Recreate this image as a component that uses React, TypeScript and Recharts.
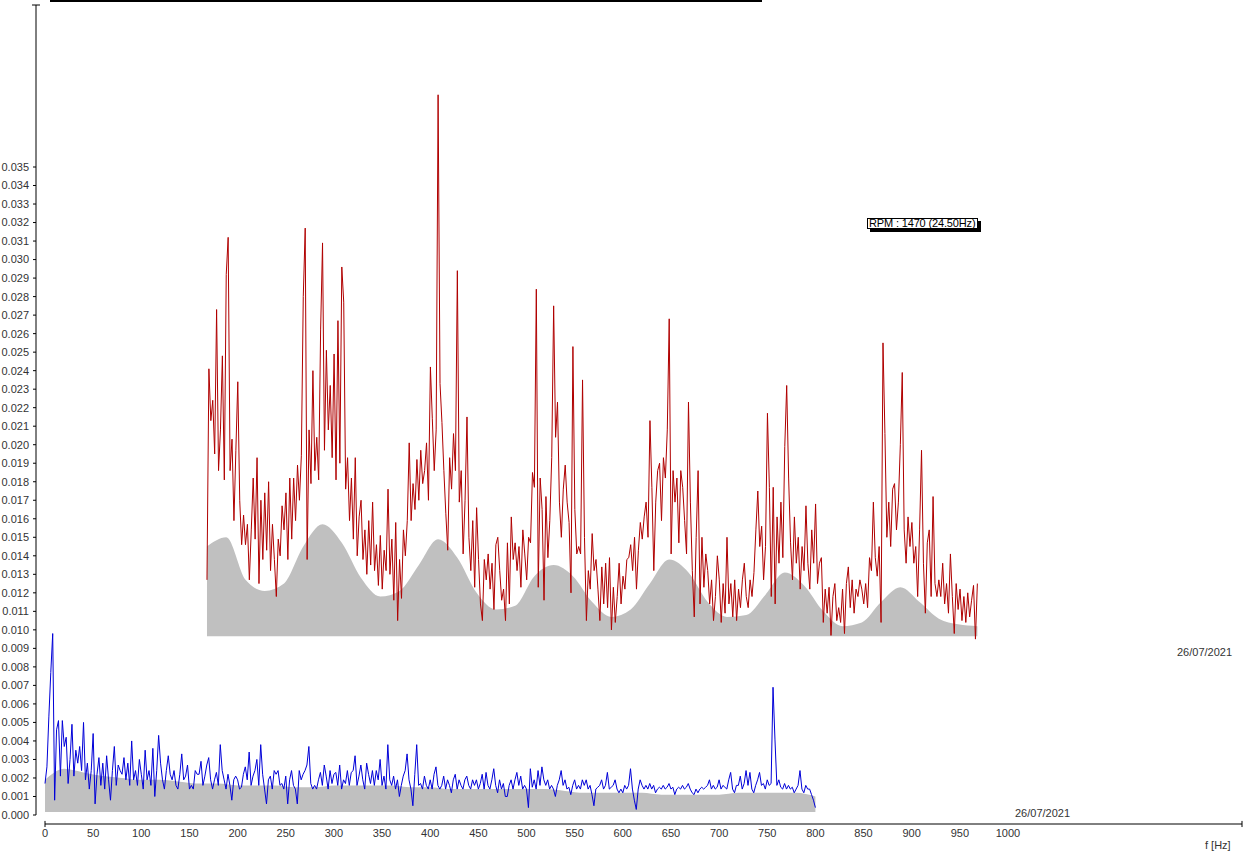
import React from 'react';
import { ComposedChart, Line, Area, XAxis, YAxis, ReferenceLine } from 'recharts';

// spectrum amplitudes in 1e-3 units, one value every 2 Hz from 0 to 800 Hz
const BIN_HZ = 2;

const BACK_SPECTRUM = [
  3.2, 14.6, 11.8, 12.9, 10.0, 17.8, 9.1, 11.3, 15.3, 8.6, 19.7, 21.7, 9.1, 10.8, 6.4, 10.2, 13.9, 7.5, 5.1, 6.7,
  5.1, 6.2, 3.2, 5.9, 8.7, 5.4, 9.8, 3.0, 7.5, 4.3, 7.9, 4.8, 8.5, 3.7, 6.2, 4.3, 2.3, 5.4, 4.5, 7.2,
  5.9, 7.9, 4.3, 8.7, 5.4, 8.7, 6.4, 9.4, 7.5, 9.9, 18.5, 22.2, 4.3, 11.3, 8.4, 14.5, 9.1, 10.9, 8.6, 16.7,
  21.4, 10.2, 15.6, 11.3, 13.7, 9.8, 15.4, 8.6, 17.2, 9.5, 20.1, 18.2, 8.1, 9.8, 6.4, 8.7, 5.4, 9.8, 4.5, 6.6,
  7.5, 4.3, 5.9, 3.5, 6.4, 4.0, 7.4, 3.7, 5.1, 2.9, 5.6, 2.7, 4.8, 3.7, 8.1, 3.5, 5.4, 2.1, 6.3, 1.0,
  4.3, 2.2, 5.9, 4.5, 6.4, 10.6, 6.4, 8.4, 7.0, 9.7, 7.5, 10.2, 8.4, 9.1, 10.6, 7.5, 14.7, 11.9, 9.1, 11.3,
  29.4, 13.8, 11.7, 9.1, 6.8, 4.8, 9.8, 8.1, 11.1, 9.1, 19.9, 7.4, 9.1, 4.6, 7.5, 12.0, 5.5, 3.7, 6.4, 2.8,
  7.1, 4.3, 1.9, 1.0, 4.3, 3.2, 4.6, 2.7, 4.1, 1.6, 5.1, 5.5, 3.7, 2.1, 2.7, 1.0, 5.2, 1.9, 6.6, 4.3,
  5.2, 3.7, 5.0, 2.8, 5.9, 4.6, 3.2, 5.5, 5.2, 9.0, 8.2, 18.9, 2.8, 8.7, 7.0, 2.1, 7.7, 4.4, 6.4, 9.8,
  18.0, 10.9, 12.8, 7.4, 5.5, 8.1, 9.4, 7.4, 6.3, 2.5, 15.8, 7.0, 4.6, 5.0, 4.6, 14.0, 5.5, 1.0, 3.7, 2.7,
  5.7, 3.7, 4.3, 2.7, 1.0, 3.9, 1.9, 4.1, 1.7, 4.4, 0.5, 2.8, 0.9, 2.3, 4.1, 1.9, 3.4, 2.7, 4.3, 4.4,
  5.1, 3.7, 5.5, 2.7, 4.8, 6.3, 5.4, 6.6, 7.4, 5.5, 11.8, 8.2, 3.7, 7.4, 9.1, 9.5, 6.4, 9.8, 8.7, 11.3,
  17.3, 4.6, 9.1, 7.4, 8.7, 5.2, 9.1, 8.2, 6.4, 4.6, 12.8, 7.4, 3.7, 1.2, 5.5, 9.1, 1.9, 5.5, 2.8, 4.6,
  3.7, 1.9, 3.2, 1.0, 2.3, 4.5, 3.2, 0.9, 3.0, 1.4, 5.5, 1.9, 3.0, 1.2, 3.2, 1.0, 2.7, 1.7, 3.2, 4.1,
  2.3, 1.7, 3.2, 2.3, 3.6, 5.9, 8.0, 5.0, 6.1, 3.2, 5.0, 12.2, 8.2, 2.3, 8.2, 1.9, 6.6, 4.1, 7.4, 4.4,
  10.4, 13.7, 8.7, 5.2, 3.2, 6.6, 4.1, 5.5, 2.7, 5.0, 3.7, 7.2, 4.1, 2.7, 5.9, 4.1, 7.3, 3.0, 4.1, 4.4,
  0.9, 2.7, 1.4, 2.8, 0.2, 2.3, 3.0, 1.0, 1.7, 0.9, 2.7, 0.3, 3.0, 3.9, 1.7, 3.2, 1.4, 2.7, 2.3, 3.2,
  2.7, 1.9, 3.0, 1.7, 4.4, 3.7, 7.4, 4.4, 3.4, 5.0, 0.9, 16.0, 11.1, 5.5, 7.4, 5.0, 8.1, 8.4, 5.9, 7.4,
  10.5, 14.4, 5.9, 4.1, 6.6, 5.0, 6.3, 4.1, 5.0, 2.3, 5.9, 10.2, 4.1, 1.4, 5.2, 5.9, 2.3, 7.7, 3.0, 2.3,
  3.2, 2.3, 4.1, 1.9, 3.0, 1.4, 4.6, 2.3, 0.3, 3.0, 1.6, 2.7, 1.0, 2.3, 0.9, 2.5, 1.2, 2.1, 2.9, 0.0,
  3.0,
];

const FRONT_SPECTRUM = [
  1.7, 2.6, 5.3, 7.7, 9.8, 0.8, 4.6, 5.1, 2.1, 5.1, 3.7, 4.2, 1.7, 3.0, 4.9, 2.1, 3.5, 2.8, 3.7, 2.4,
  5.0, 1.9, 2.8, 1.4, 2.4, 4.4, 0.6, 2.2, 3.1, 1.6, 2.8, 1.4, 3.2, 1.9, 0.8, 2.4, 3.7, 1.6, 2.7, 2.4,
  2.2, 3.1, 1.9, 2.8, 1.6, 4.0, 1.9, 2.4, 1.6, 3.0, 2.2, 1.4, 3.5, 1.9, 2.4, 1.6, 3.6, 1.0, 2.4, 4.3,
  2.8, 1.9, 1.4, 2.4, 3.2, 2.2, 1.9, 2.4, 1.6, 1.4, 2.2, 3.3, 1.9, 2.1, 2.7, 1.4, 1.6, 1.4, 2.4, 2.2,
  2.2, 2.9, 1.6, 2.1, 2.7, 3.1, 1.9, 1.4, 1.9, 2.3, 1.6, 3.8, 2.4, 1.9, 1.4, 2.2, 1.6, 0.8, 1.9, 2.1,
  1.9, 1.4, 1.5, 2.2, 2.6, 1.9, 3.4, 1.6, 2.1, 2.4, 3.0, 1.6, 3.8, 2.2, 1.4, 0.6, 1.9, 2.1, 1.4, 2.4,
  2.2, 2.4, 1.6, 1.7, 1.4, 2.1, 0.6, 1.9, 2.4, 1.6, 1.4, 0.6, 2.4, 1.9, 2.2, 2.4, 2.7, 3.7, 1.7, 1.4,
  1.6, 1.4, 1.9, 2.3, 1.6, 2.7, 2.1, 1.4, 2.4, 1.7, 2.2, 2.3, 1.6, 2.7, 1.4, 1.9, 1.7, 2.4, 1.6, 2.3,
  2.4, 3.2, 1.6, 2.1, 2.7, 1.9, 1.4, 2.8, 2.2, 1.7, 2.4, 1.6, 2.4, 1.9, 3.0, 1.6, 2.1, 1.4, 3.8, 1.9,
  1.6, 2.1, 1.4, 1.9, 1.0, 1.6, 2.1, 2.4, 3.3, 1.9, 1.4, 0.5, 2.2, 3.8, 1.6, 1.7, 1.4, 2.1, 1.6, 1.4,
  1.9, 1.4, 2.2, 2.6, 1.6, 1.4, 1.6, 2.1, 1.4, 1.9, 1.6, 1.2, 1.9, 2.2, 1.4, 1.9, 1.6, 1.4, 1.9, 2.1,
  1.6, 1.4, 1.9, 1.6, 1.9, 1.4, 1.7, 2.2, 1.4, 2.3, 1.6, 1.4, 1.9, 2.5, 1.6, 1.2, 1.9, 1.4, 1.7, 1.0,
  1.0, 1.6, 1.9, 1.4, 1.9, 2.3, 1.6, 2.1, 1.4, 1.6, 1.4, 0.4, 2.5, 1.5, 1.9, 1.4, 2.4, 1.6, 2.6, 1.9,
  1.6, 1.9, 1.4, 1.6, 1.4, 1.0, 1.6, 1.9, 2.4, 1.6, 1.9, 1.4, 1.5, 1.1, 1.6, 1.9, 1.4, 1.6, 1.4, 1.9,
  1.6, 1.9, 1.4, 1.6, 1.1, 0.5, 1.4, 1.5, 1.6, 1.9, 1.4, 1.6, 2.3, 1.4, 1.5, 1.6, 1.9, 1.4, 1.2, 1.4,
  1.2, 1.6, 1.4, 1.6, 2.5, 1.4, 0.8, 0.3, 1.4, 1.9, 1.6, 1.4, 1.6, 1.4, 1.7, 1.4, 1.6, 1.2, 1.4, 1.5,
  1.4, 1.6, 1.4, 1.5, 1.7, 1.4, 1.5, 1.1, 1.4, 1.5, 1.4, 1.6, 1.4, 1.5, 1.7, 1.4, 1.2, 1.1, 1.4, 1.2,
  1.4, 1.5, 1.4, 1.5, 1.6, 1.9, 1.4, 1.6, 1.4, 1.5, 1.9, 1.4, 1.6, 1.5, 1.4, 1.9, 2.3, 1.4, 1.2, 1.6,
  1.6, 2.1, 1.4, 1.7, 2.4, 1.6, 2.3, 1.4, 1.2, 1.6, 1.9, 2.3, 1.6, 1.7, 1.4, 1.9, 1.6, 1.7, 6.9, 4.1,
  1.6, 1.9, 1.5, 1.4, 1.7, 1.4, 1.6, 1.4, 1.5, 1.2, 1.4, 1.6, 2.4, 1.4, 1.2, 1.6, 1.4, 1.4, 1.1, 0.8,
  0.4,
];

// level of the gray surface under each spectrum, 1e-3 units, every 20 Hz
const FLOOR_HZ = 20;
const BACK_FLOOR = [
  5.0, 5.5, 3.2, 2.6, 3.0, 5.0, 6.2, 5.2, 3.3, 2.3, 2.6, 4.0, 5.4, 4.4, 2.5, 1.6, 1.8, 3.4, 4.0, 3.4,
  2.0, 1.2, 1.6, 3.0, 4.3, 3.6, 2.0, 1.2, 1.3, 2.4, 3.6, 2.9, 1.5, 0.7, 0.9, 2.0, 2.8, 2.0, 1.1, 0.8, 0.7,
];
const FRONT_FLOOR = [
  1.9, 2.5, 2.3, 2.1, 2.0, 1.9, 1.9, 1.8, 1.7, 1.7, 1.6, 1.6, 1.6, 1.5, 1.5, 1.6, 1.6, 1.6, 1.6, 1.5,
  1.5, 1.4, 1.4, 1.4, 1.4, 1.4, 1.4, 1.3, 1.2, 1.2, 1.2, 1.2, 1.1, 1.1, 1.1, 1.1, 1.2, 1.2, 1.2, 1.2, 1.0,
];

const X_TICKS = [0, 50, 100, 150, 200, 250, 300, 350, 400, 450, 500, 550, 600, 650, 700, 750, 800, 850, 900, 950, 1000];
const Y_TICKS = [
  0, 0.001, 0.002, 0.003, 0.004, 0.005, 0.006, 0.007, 0.008, 0.009, 0.01, 0.011, 0.012, 0.013, 0.014, 0.015, 0.016, 0.017,
  0.018, 0.019, 0.02, 0.021, 0.022, 0.023, 0.024, 0.025, 0.026, 0.027, 0.028, 0.029, 0.03, 0.031, 0.032, 0.033, 0.034, 0.035,
];
const ROW_DATES = ['26/07/2021', '26/07/2021'];
const RPM_TEXT = 'RPM : 1470 (24.50Hz)';
const X_UNIT = 'f [Hz]';

// waterfall offsets of the back row
const BACK_DX = 168.2;
const BACK_DY = 0.0095;
const GRAY_BASE = 0.00016;

const X_DOMAIN: [number, number] = [-9.35, 1243];
const Y_DOMAIN: [number, number] = [-0.000486, 0.04375];

const FONT = '"Liberation Sans", Arial, sans-serif';
const TEXT = '#333';

function toLine(values: number[], dx: number, dy: number) {
  return values.map((v, i) => ({ f: i * BIN_HZ + dx, v: v / 1000 + dy }));
}

function toFloor(values: number[], dx: number, dy: number) {
  return values.map((v, i) => ({ f: i * FLOOR_HZ + dx, band: [GRAY_BASE + dy, v / 1000 + dy] }));
}

const backLine = toLine(BACK_SPECTRUM, BACK_DX, BACK_DY);
const frontLine = toLine(FRONT_SPECTRUM, 0, 0);
const backFloor = toFloor(BACK_FLOOR, BACK_DX, BACK_DY);
const frontFloor = toFloor(FRONT_FLOOR, 0, 0);

const textStyle: React.CSSProperties = {
  position: 'absolute',
  fontFamily: FONT,
  fontSize: 11,
  lineHeight: '13px',
  color: TEXT,
  whiteSpace: 'nowrap',
};

export default function App() {
  const capLo = -0.00032;
  const capHi = -0.00065;
  return (
    <div style={{ position: 'absolute', left: 0, top: 0, width: 1252, height: 856, background: '#fff' }}>
      <div style={{ position: 'absolute', left: 50, top: 0, width: 712, height: 2, background: '#000' }} />
      <ComposedChart width={1252} height={856} margin={{ top: 5, right: 10, bottom: 0, left: 0 }}>
        <XAxis
          type="number"
          dataKey="f"
          domain={X_DOMAIN}
          allowDataOverflow
          ticks={X_TICKS}
          interval={0}
          axisLine={false}
          tickLine={false}
          tickSize={0}
          tickMargin={5}
          height={32}
          tick={{ fill: TEXT, fontSize: 11, fontFamily: FONT }}
        />
        <YAxis
          type="number"
          domain={Y_DOMAIN}
          allowDataOverflow
          ticks={Y_TICKS}
          interval={0}
          axisLine={false}
          tickSize={3}
          tickMargin={4}
          width={36}
          tickLine={{ stroke: '#000' }}
          tickFormatter={(v: number) => v.toFixed(3)}
          tick={{ fill: TEXT, fontSize: 11, fontFamily: FONT }}
        />

        <Area data={backFloor} dataKey="band" type="monotone" stroke="none" fill="#c0c0c0" fillOpacity={1} isAnimationActive={false} />
        <Line data={backLine} dataKey="v" type="linear" stroke="#b00000" strokeWidth={1} dot={false} isAnimationActive={false} />
        <Area data={frontFloor} dataKey="band" type="monotone" stroke="none" fill="#c0c0c0" fillOpacity={1} isAnimationActive={false} />
        <Line data={frontLine} dataKey="v" type="linear" stroke="#0000d8" strokeWidth={1} dot={false} isAnimationActive={false} />

        {/* axis lines with end caps */}
        <ReferenceLine segment={[{ x: X_DOMAIN[0], y: 0 }, { x: X_DOMAIN[0], y: Y_DOMAIN[1] }]} stroke="#000" ifOverflow="visible" />
        <ReferenceLine segment={[{ x: -13.5, y: Y_DOMAIN[1] }, { x: -5.2, y: Y_DOMAIN[1] }]} stroke="#000" ifOverflow="visible" />
        <ReferenceLine segment={[{ x: 0, y: Y_DOMAIN[0] }, { x: X_DOMAIN[1], y: Y_DOMAIN[0] }]} stroke="#000" ifOverflow="visible" />
        <ReferenceLine segment={[{ x: 0, y: capLo }, { x: 0, y: capHi }]} stroke="#000" ifOverflow="visible" />
        <ReferenceLine segment={[{ x: X_DOMAIN[1], y: capLo }, { x: X_DOMAIN[1], y: capHi }]} stroke="#000" ifOverflow="visible" />
      </ComposedChart>

      <div style={{ ...textStyle, left: 1177, top: 646 }}>{ROW_DATES[1]}</div>
      <div style={{ ...textStyle, left: 1015, top: 807 }}>{ROW_DATES[0]}</div>
      <div style={{ ...textStyle, left: 1205, top: 839 }}>{X_UNIT}</div>
      <div
        style={{
          position: 'absolute',
          left: 867,
          top: 218,
          width: 108,
          height: 9,
          paddingLeft: 1,
          border: '1px solid #000',
          boxShadow: '3px 3px 0 #000',
          background: '#fff',
          fontFamily: FONT,
          fontSize: 11,
          lineHeight: '9px',
          letterSpacing: '-0.15px',
          color: '#000',
          whiteSpace: 'nowrap',
        }}
      >
        {RPM_TEXT}
      </div>
    </div>
  );
}
